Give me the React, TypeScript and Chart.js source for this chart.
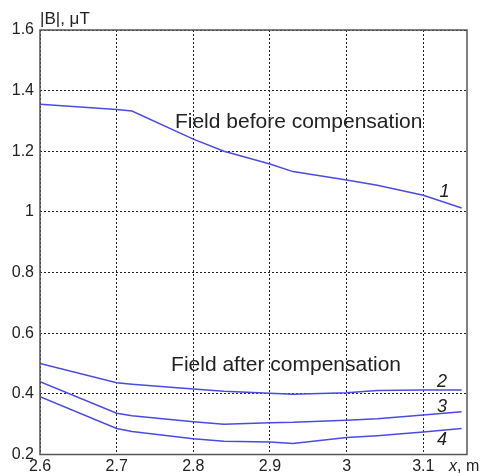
import React, { useEffect, useRef } from "react";
import { Chart, registerables } from "chart.js";

Chart.register(...registerables);

// ---- data ----
const xPoints = [2.6, 2.7, 2.72, 2.8, 2.84, 2.9, 2.93, 3.0, 3.04, 3.1, 3.15];
const curve1 = [1.355, 1.338, 1.333, 1.24, 1.2, 1.158, 1.133, 1.105, 1.088, 1.055, 1.013];
const curve2 = [0.5, 0.437, 0.432, 0.416, 0.409, 0.402, 0.399, 0.404, 0.411, 0.413, 0.413];
const curve3 = [0.44, 0.336, 0.328, 0.308, 0.3, 0.305, 0.306, 0.313, 0.318, 0.33, 0.341];
const curve4 = [0.391, 0.286, 0.276, 0.252, 0.244, 0.241, 0.236, 0.256, 0.262, 0.274, 0.286];

const xTickValues = [2.6, 2.7, 2.8, 2.9, 3.0, 3.1];
const xTickLabels = ["2.6", "2.7", "2.8", "2.9", "3", "3.1"];
const yTickValues = [0.2, 0.4, 0.6, 0.8, 1.0, 1.2, 1.4, 1.6];
const yTickLabels = ["0.2", "0.4", "0.6", "0.8", "1", "1.2", "1.4", "1.6"];

const xMin = 2.6;
const xMax = 3.157;
const yMin = 0.2;
const yMax = 1.6;

const yTitle = "|B|, μT";
const xTitleItalic = "x";
const xTitleRest = ", m";

// text annotations in data coordinates
const annTexts = ["Field before compensation", "Field after compensation"];
const annX = [2.776, 2.771];
const annY = [1.277, 0.475];
const curveLabels = ["1", "2", "3", "4"];
const curveLabelX = [3.121, 3.118, 3.118, 3.118];
const curveLabelY = [1.049, 0.423, 0.34, 0.231];

const LINE_COLOR = "rgb(75,75,228)";
const FONT = "'Liberation Sans', Arial, sans-serif";

function toPoints(ys: number[]) {
  return ys.map((v, i) => ({ x: xPoints[i], y: v }));
}

const framePlugin = {
  id: "frameAndText",
  afterDraw(chart: any) {
    const { ctx, chartArea: a, scales } = chart;
    const xs = scales.x;
    const ys = scales.y;
    ctx.save();
    // frame
    ctx.setLineDash([]);
    ctx.strokeStyle = "#555";
    ctx.lineWidth = 1.5;
    ctx.strokeRect(a.left, a.top, a.right - a.left, a.bottom - a.top);

    // annotations
    ctx.fillStyle = "#222";
    ctx.textAlign = "left";
    ctx.textBaseline = "alphabetic";
    ctx.font = `21px ${FONT}`;
    annTexts.forEach((t, i) => {
      ctx.fillText(t, xs.getPixelForValue(annX[i]), ys.getPixelForValue(annY[i]));
    });
    ctx.font = `italic 18px ${FONT}`;
    curveLabels.forEach((t, i) => {
      ctx.fillText(t, xs.getPixelForValue(curveLabelX[i]), ys.getPixelForValue(curveLabelY[i]));
    });

    // axis titles
    ctx.font = `17px ${FONT}`;
    ctx.fillText(yTitle, a.left, a.top - 6);
    const xt = a.right - 18;
    const xb = a.bottom + 16;
    ctx.font = `italic 16px ${FONT}`;
    ctx.fillText(xTitleItalic, xt, xb);
    const w = ctx.measureText(xTitleItalic).width;
    ctx.font = `16px ${FONT}`;
    ctx.fillText(xTitleRest, xt + w, xb);
    ctx.restore();
  },
};

export default function App() {
  const ref = useRef<HTMLCanvasElement>(null);
  useEffect(() => {
    if (!ref.current) return;
    const mk = (ys: number[]) => ({
      data: toPoints(ys),
      borderColor: LINE_COLOR,
      borderWidth: 1.5,
      pointRadius: 0,
      tension: 0,
      fill: false,
    });
    const chart = new Chart(ref.current, {
      type: "line",
      data: {
        datasets: [mk(curve1), mk(curve2), mk(curve3), mk(curve4)],
      },
      options: {
        responsive: false,
        animation: false,
        layout: { padding: { left: 0, right: 13, top: 30, bottom: 0 } },
        plugins: { legend: { display: false }, tooltip: { enabled: false } },
        scales: {
          x: {
            type: "linear",
            min: xMin,
            max: xMax,
            afterBuildTicks: (s: any) => {
              s.ticks = xTickValues.map((v) => ({ value: v }));
            },
            afterFit: (s: any) => {
              s.height = 18.5;
            },
            ticks: {
              autoSkip: false,
              maxRotation: 0,
              padding: 2,
              color: "#222",
              font: { family: FONT, size: 16 },
              callback: (v: any) => {
                const i = xTickValues.findIndex((t) => Math.abs(t - Number(v)) < 1e-6);
                return i >= 0 ? xTickLabels[i] : "";
              },
            },
            grid: { color: "#222", lineWidth: 1, drawTicks: false },
            border: { display: false, dash: [2, 2] },
          },
          y: {
            type: "linear",
            min: yMin,
            max: yMax,
            afterBuildTicks: (s: any) => {
              s.ticks = yTickValues.map((v) => ({ value: v }));
            },
            afterFit: (s: any) => {
              s.width = 40;
            },
            ticks: {
              autoSkip: false,
              padding: 6,
              color: "#222",
              font: { family: FONT, size: 16 },
              callback: (v: any) => {
                const i = yTickValues.findIndex((t) => Math.abs(t - Number(v)) < 1e-6);
                return i >= 0 ? yTickLabels[i] : "";
              },
            },
            grid: { color: "#222", lineWidth: 1, drawTicks: false },
            border: { display: false, dash: [2, 2] },
          },
        },
      },
      plugins: [framePlugin],
    } as any);
    return () => chart.destroy();
  }, []);
  return (
    <div style={{ position: "absolute", left: 0, top: 0, width: 480, height: 473, background: "#fff" }}>
      <canvas ref={ref} width={480} height={473} style={{ display: "block" }} />
    </div>
  );
}
